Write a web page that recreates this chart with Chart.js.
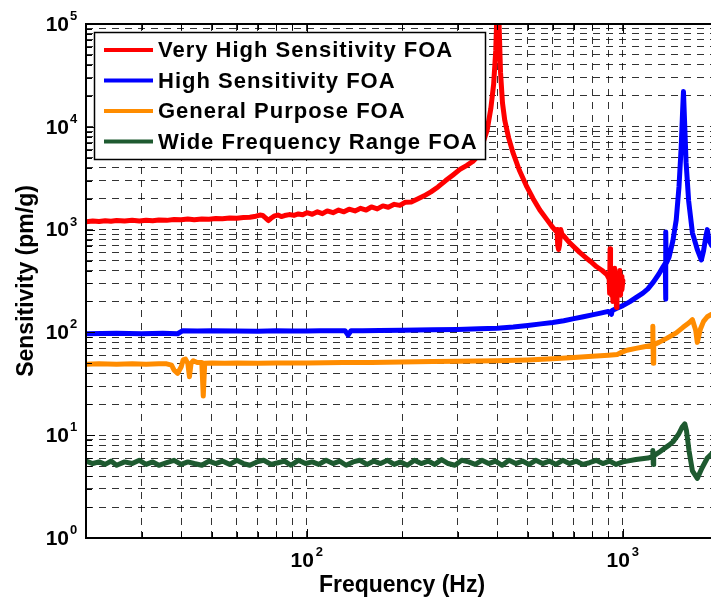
<!DOCTYPE html>
<html><head><meta charset="utf-8">
<script src="https://cdn.jsdelivr.net/npm/chart.js@4.4.1/dist/chart.umd.min.js"></script>
<style>
html,body{margin:0;padding:0;overflow:hidden;background:#fff;width:711px;height:599px}
#wrap{position:absolute;left:0;top:0;width:720px;height:599px}
</style></head><body>
<div id="wrap"><canvas id="c" width="720" height="599"></canvas></div>
<script>
// ---- data (frequency Hz, sensitivity pm/g) ----
const seriesLabels = ['Very High Sensitivity FOA','High Sensitivity FOA','General Purpose FOA','Wide Frequency Range FOA'];
const seriesColors = ['#ff0000','#0000ff','#ff8c00','#1e5a30'];

const redData = [[20,1195],[21,1215],[22,1200],[23,1220],[24,1205],[25,1225],[26.5,1210],[28,1230],[29.5,1215],[31,1235],[32.5,1220],[34,1240],[36,1230],[38,1255],[40,1245],[42,1265],[44,1250],[46.5,1270],[49,1260],[51.5,1285],[54,1275],[57,1295],[60,1290],[63,1310],[66,1320],[69,1350],[71,1385],[72.5,1370],[74,1300],[75.5,1225],[77,1290],[79,1360],[81,1385],[83,1340],[85,1370],[88,1400],[91,1375],[94,1420],[97,1395],[100,1460],[104,1410],[108,1490],[112,1430],[116,1520],[121,1460],[126,1550],[131,1490],[136,1580],[142,1520],[148,1610],[154,1550],[160,1660],[167,1590],[174,1700],[181,1650],[189,1760],[197,1720],[205,1850],[214,1860],[224,1990],[235,2130],[247,2330],[260,2600],[275,3000],[290,3400],[305,3850],[320,4200],[335,4600],[348,5200],[360,6800],[372,9300],[382,15000],[390,26000],[396,55000],[401,200000],[405,120000],[410,34000],[416,17000],[423,11500],[435,7800],[449,5600],[470,3800],[497,2600],[520,2000],[546,1550],[575,1250],[600,1050],[615,960],[619,1000],[622,700],[626,640],[630,700],[636,1000],[642,900],[650,870],[665,800],[680,740],[700,680],[730,600],[760,540],[790,490],[826,435],[860,400],[890,365],[905,330],[908,240],[911,650],[914,300],[918,420],[922,230],[926,380],[930,200],[934,360],[938,260],[942,420],[946,210],[950,380],[954,175],[958,330],[963,240],[968,370],[973,250],[978,400],[983,230],[988,350],[993,260],[1000,320]];

const blueData = [[20,97],[25,98],[30,97],[35,98],[39,97],[40.5,104],[45,103],[50,103.5],[60,103],[70,102.5],[80,103.5],[90,103],[100,103],[110,104],[120,103.5],[132,104],[135,94],[138,104],[150,104],[170,104.5],[200,105],[250,106],[300,107],[350,108.5],[400,110],[450,113],[500,117],[550,121],[600,125],[650,130],[700,136],[750,142],[800,148],[850,154],[900,160],[920,150],[925,163],[950,170],[1000,182],[1050,198],[1100,218],[1157,241],[1200,265],[1250,310],[1300,370],[1340,435],[1362,470],[1365,210],[1368,950],[1372,470],[1400,540],[1440,780],[1475,1240],[1505,2600],[1530,6500],[1545,14000],[1555,22000],[1565,13000],[1585,4500],[1615,1900],[1660,930],[1720,640],[1772,506],[1800,620],[1830,850],[1850,1000],[1875,780],[1910,700]];

const orangeData = [[20,49],[22,49.5],[25,49],[28,49.5],[31,49],[34,49.5],[36,49.5],[37.3,48],[38,43],[39,40],[40,46],[40.6,54],[41.3,55],[42,50],[42.5,37],[43,50],[43.7,53],[45,51],[46.5,51],[47,24],[47.5,50],[50,50.5],[55,50],[60,50.5],[70,50],[80,50.5],[100,50.5],[130,51],[160,51],[200,51.5],[250,52],[300,52.5],[400,53],[500,54],[600,55.5],[700,57],[800,58.5],[900,60],[960,61],[990,64],[1030,67],[1100,70],[1180,73],[1240,75],[1244,115],[1248,50],[1252,76],[1300,80],[1380,88],[1475,99],[1550,112],[1620,124],[1660,133],[1700,105],[1720,80],[1760,108],[1800,128],[1850,142],[1910,150]];

const greenData = [[20,5.6],[21,5.3],[22,5.5],[23,5.2],[24,5.6],[25,5.1],[26.5,5.5],[28,5.3],[29.5,5.7],[31,5.2],[32.5,5.5],[34,5.1],[36,5.4],[38,5.7],[40,5.2],[42,5.5],[44,5.3],[46.5,5.1],[49,5.6],[51.5,5.3],[54,5.6],[57,5.2],[60,5.7],[63,5.3],[66,5.1],[69.5,5.5],[73,5.7],[77,5.2],[81,5.4],[85,5.6],[89,5.1],[94,5.7],[99,5.3],[104,5.5],[109,5.2],[115,5.7],[121,5.3],[127,5.6],[133,5.1],[140,5.5],[147,5.7],[155,5.2],[163,5.6],[171,5.3],[180,5.7],[189,5.2],[198,5.5],[208,5.1],[219,5.7],[230,5.3],[242,5.6],[254,5.2],[267,5.8],[280,5.3],[294,5.1],[309,5.7],[325,5.5],[341,5.2],[358,5.7],[376,5.3],[395,5.6],[415,5.1],[436,5.7],[458,5.3],[481,5.6],[505,5.2],[530,5.7],[557,5.3],[585,5.6],[614,5.2],[645,5.7],[677,5.3],[711,5.6],[747,5.2],[784,5.4],[823,5.7],[864,5.3],[907,5.6],[952,5.2],[1000,5.5],[1100,5.8],[1200,6.0],[1240,6.2],[1244,7.1],[1248,5.2],[1252,6.3],[1300,6.8],[1350,7.4],[1400,8.0],[1440,8.6],[1500,10.2],[1540,12],[1570,12.9],[1590,11],[1620,7],[1660,4.5],[1720,3.8],[1780,4.8],[1850,6.0],[1910,6.6]];

const xTickValues = [20,30,40,50,60,70,80,90,100,200,300,400,500,600,700,800,900,1000,2000];
const yTickValues = [1,2,3,4,5,6,7,8,9,10,20,30,40,50,60,70,80,90,100,200,300,400,500,600,700,800,900,1000,2000,3000,4000,5000,6000,7000,8000,9000,10000,20000,30000,40000,50000,60000,70000,80000,90000,100000];
const xLabelExps = [2,3];
const yLabelExps = [0,1,2,3,4,5];

const FONT = '"Liberation Sans", Arial, sans-serif';
const toXY = arr => arr.map(p => ({x:p[0], y:p[1]}));
const allData = [redData, blueData, orangeData, greenData];
const isPow10 = v => Math.abs(Math.log10(v)-Math.round(Math.log10(v)))<1e-9;

const decorPlugin = {
  id:'decor',
  afterDatasetsDraw(chart){
    const ctx = chart.ctx, a = chart.chartArea;
    const xs = chart.scales.x, ys = chart.scales.y;
    ctx.save();
    // frame
    ctx.strokeStyle='#000'; ctx.lineWidth=2;
    ctx.beginPath();
    ctx.moveTo(a.right+5, a.top); ctx.lineTo(a.left, a.top); ctx.lineTo(a.left, a.bottom); ctx.lineTo(a.right+5, a.bottom);
    ctx.stroke();
    // inner tick marks
    ctx.lineWidth=1;
    yTickValues.forEach(v=>{
      const y = Math.round(ys.getPixelForValue(v))+0.5;
      const L = isPow10(v) ? 9 : 6;
      ctx.beginPath(); ctx.moveTo(a.left, y); ctx.lineTo(a.left+L, y); ctx.stroke();
    });
    xTickValues.forEach(v=>{
      const x = Math.round(xs.getPixelForValue(v))+0.5;
      const L = isPow10(v) ? 9 : 6;
      ctx.beginPath(); ctx.moveTo(x, a.bottom); ctx.lineTo(x, a.bottom-L); ctx.moveTo(x, a.top); ctx.lineTo(x, a.top+L); ctx.stroke();
    });
    // tick labels with superscripts
    ctx.fillStyle='#000';
    yLabelExps.forEach(e=>{
      const y = ys.getPixelForValue(Math.pow(10,e));
      ctx.font='bold 21px '+FONT; ctx.textAlign='right'; ctx.textBaseline='middle';
      ctx.fillText('10', 69, y+1);
      ctx.font='bold 13px '+FONT; ctx.textAlign='left'; ctx.textBaseline='alphabetic';
      ctx.fillText(String(e), 70, y-4);
    });
    xLabelExps.forEach(e=>{
      const x = xs.getPixelForValue(Math.pow(10,e));
      ctx.font='bold 21px '+FONT; ctx.textAlign='right'; ctx.textBaseline='middle';
      ctx.fillText('10', x+7, 561);
      ctx.font='bold 13px '+FONT; ctx.textAlign='left'; ctx.textBaseline='alphabetic';
      ctx.fillText(String(e), x+9, 556);
    });
    // legend
    ctx.fillStyle='#fff'; ctx.fillRect(94,32,391,127);
    ctx.strokeStyle='#000'; ctx.lineWidth=1.5; ctx.strokeRect(94.5,32.5,391,127);
    chart.data.datasets.forEach((ds,i)=>{
      const y = 50 + i*30.5;
      ctx.strokeStyle = ds.borderColor; ctx.lineWidth=4;
      ctx.beginPath(); ctx.moveTo(104,y); ctx.lineTo(153,y); ctx.stroke();
      ctx.fillStyle='#000'; ctx.font='bold 22px '+FONT; ctx.textAlign='left'; ctx.textBaseline='middle';
      try { ctx.letterSpacing='1px'; } catch(e){}
      ctx.fillText(ds.label, 158, y+1);
      try { ctx.letterSpacing='0px'; } catch(e){}
    });
    ctx.restore();
  }
};

const gridColor = 'rgba(0,0,0,0.8)';
new Chart(document.getElementById('c'), {
  type:'line',
  data:{
    datasets: allData.map((d,i)=>({
      label: seriesLabels[i], data: toXY(d), borderColor: seriesColors[i], backgroundColor: seriesColors[i],
      borderWidth: 5, pointRadius: 0, tension: 0, fill: false, borderJoinStyle:'round', borderCapStyle:'round'
    }))
  },
  options:{
    responsive:false, animation:false, parsing:true,
    layout:{padding:{top:24,right:2,left:0,bottom:0}},
    plugins:{legend:{display:false}, tooltip:{enabled:false}},
    scales:{
      x:{type:'logarithmic', min:20, max:2000,
        afterBuildTicks: s => { s.ticks = xTickValues.map(v=>({value:v})); },
        afterFit: s => { s.height = 61; },
        ticks:{display:false},
        grid:{color:gridColor, lineWidth:1, drawTicks:false, tickLength:0},
        border:{display:false, dash:[7,6]},
        title:{display:true, text:'Frequency (Hz)', color:'#000', font:{family:FONT, size:23, weight:'bold'}, padding:{top:0,bottom:0}}
      },
      y:{type:'logarithmic', min:1, max:100000,
        afterBuildTicks: s => { s.ticks = yTickValues.map(v=>({value:v})); },
        afterFit: s => { s.width = 86; },
        ticks:{display:false},
        grid:{color:gridColor, lineWidth:1, drawTicks:false, tickLength:0},
        border:{display:false, dash:[7,6]},
        title:{display:true, text:'Sensitivity (pm/g)', color:'#000', font:{family:FONT, size:23, weight:'bold'}, padding:{top:13,bottom:0}}
      }
    }
  },
  plugins:[decorPlugin]
});
</script>
</body></html>
